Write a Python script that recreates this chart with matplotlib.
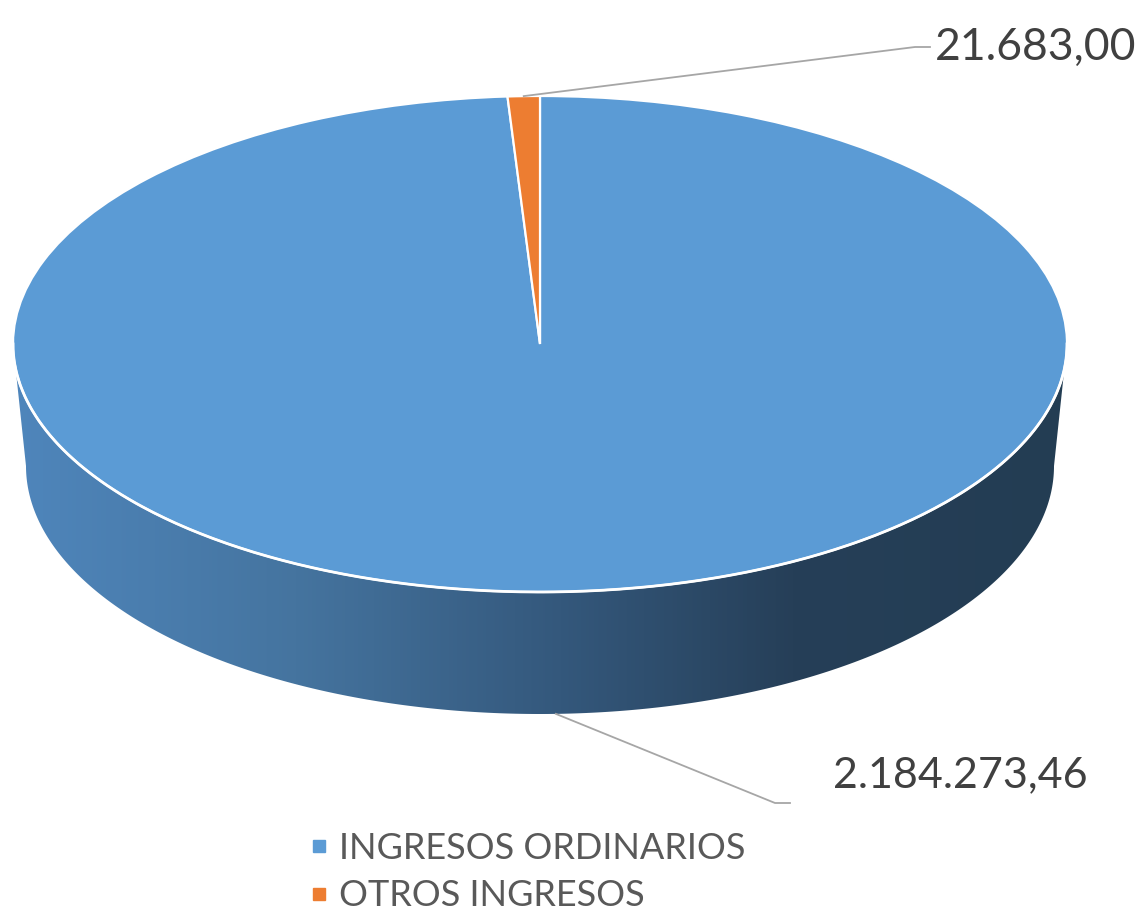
import numpy as np
import matplotlib
matplotlib.use("Agg")
import matplotlib.pyplot as plt
from matplotlib.patches import Wedge, Polygon
from matplotlib.lines import Line2D
from matplotlib.transforms import Affine2D
from matplotlib.colors import LinearSegmentedColormap

categories = ["INGRESOS ORDINARIOS", "OTROS INGRESOS"]
values = [2184273.46, 21683.00]
value_labels = ["2.184.273,46", "21.683,00"]
colors = ["#5B9BD5", "#ED7D31"]

plt.rcParams['font.family'] = ['Lato', 'DejaVu Sans']

W, H = 1140, 915
fig = plt.figure(figsize=(W / 100, H / 100), dpi=100)
ax = fig.add_axes([0, 0, 1, 1])
ax.set_xlim(0, W)
ax.set_ylim(H, 0)
ax.axis('off')

# ellipse geometry (pixels)
cx, cy, a, b = 540, 344, 527, 248      # top face
bcx, bcy, ba, bb = 540, 466, 514, 248  # bottom face

def top_pt(t):
    t = np.radians(t)
    return cx + a * np.cos(t), cy - b * np.sin(t)

def bot_pt(t):
    t = np.radians(t)
    return bcx + ba * np.cos(t), bcy - bb * np.sin(t)

# side wall (front half) with left-to-right gradient
th = np.linspace(180, 360, 300)
tx, ty = top_pt(th)
bx, by = bot_pt(th[::-1])
side = Polygon(np.column_stack([np.r_[tx, bx], np.r_[ty, by]]),
               closed=True, facecolor='none', edgecolor='none')
ax.add_patch(side)
side_cmap = LinearSegmentedColormap.from_list(
    'side', [(0.0, '#4F86BC'), (0.27, '#45749F'), (0.52, '#34587C'),
             (0.74, '#263F58'), (1.0, '#233D53')])
grad = np.linspace(0, 1, 512)[None, :]
img = ax.imshow(grad, cmap=side_cmap, extent=[10, 1070, 720, 340],
                aspect='auto', zorder=1)
img.set_clip_path(side)

# top face wedges, clockwise from 12 o'clock
total = sum(values)
frac = np.array(values) / total
cum = np.r_[0, np.cumsum(frac)]
tr = Affine2D().scale(a, -b).translate(cx, cy) + ax.transData
mids = []
for i, c in enumerate(colors):
    t2 = 90 - cum[i] * 360
    t1 = 90 - cum[i + 1] * 360
    w = Wedge((0, 0), 1, t1, t2, facecolor=c, edgecolor='white',
              linewidth=1.6, transform=tr, zorder=2)
    ax.add_patch(w)
    mids.append((t1 + t2) / 2)

# white rim line between top and side
ax.plot(tx, ty, color='white', lw=2, zorder=3)

# data labels with leader lines
lead = '#A6A6A6'
# OTROS INGRESOS (top)
px, py = top_pt(mids[1])
ax.plot([px, 915, 930], [py, 47, 47], color=lead, lw=1.3, zorder=4)
ax.text(935, 47, value_labels[1], fontsize=32, color='#404040',
        va='center', ha='left')
# INGRESOS ORDINARIOS (bottom of side)
px, py = bot_pt(mids[0])
ax.plot([px, 775, 790], [py, 803, 803], color=lead, lw=1.3, zorder=4)
ax.text(833, 775, value_labels[0], fontsize=31, color='#404040',
        va='center', ha='left')

# legend
handles = [Line2D([], [], marker='s', ls='none', markersize=9,
                  markerfacecolor=c, markeredgecolor=c) for c in colors]
ax.legend(handles, categories, loc='upper left',
          bbox_to_anchor=(288 / W, 1 - 814 / H), frameon=False,
          fontsize=26, labelcolor='#595959', handletextpad=0.2,
          labelspacing=0.4, borderpad=0, handlelength=0.7)

fig.savefig('out.png', dpi=100)
